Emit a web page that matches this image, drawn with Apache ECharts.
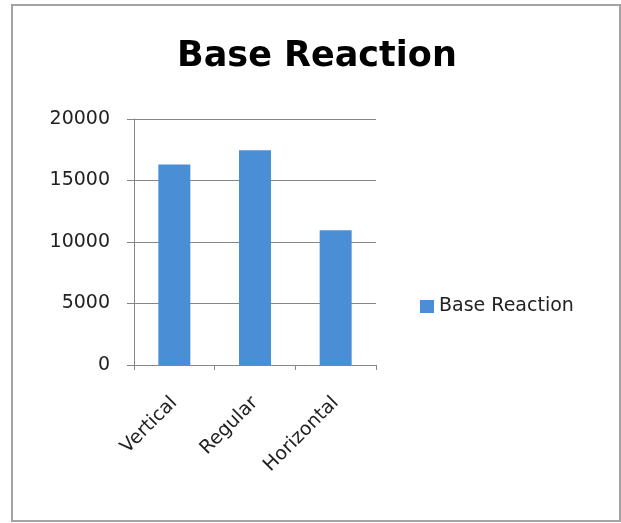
<!DOCTYPE html>
<html>
<head>
<meta charset="utf-8">
<script src="https://cdn.jsdelivr.net/npm/echarts@6/dist/echarts.min.js"></script>
<style>
  html, body { margin: 0; padding: 0; background: #fff; }
  #chart { width: 621px; height: 523px; }
</style>
</head>
<body>
<div id="chart"></div>
<script>
// Base reaction per configuration
const categories = ['Vertical', 'Regular', 'Horizontal'];
const baseReaction = [16300, 17450, 10950];
const seriesName = 'Base Reaction';
const yTicks = { min: 0, max: 20000, step: 5000 };

const chart = echarts.init(document.getElementById('chart'), null, { renderer: 'canvas' });

const axisGray = '#868686';
const textFont = 'DejaVu Sans';

chart.setOption({
  animation: false,
  backgroundColor: '#ffffff',
  title: {
    text: 'Base Reaction',
    left: 177,
    top: 39,
    padding: 0,
    textStyle: { fontFamily: textFont, fontWeight: 'bold', fontSize: 35, color: '#000' }
  },
  legend: {
    data: [seriesName],
    left: 415,
    top: 292,
    itemWidth: 14,
    itemHeight: 13,
    itemGap: 8,
    icon: 'rect',
    textStyle: { fontFamily: textFont, fontSize: 19, color: '#222' }
  },
  grid: { left: 134, right: 245, top: 119, bottom: 158, containLabel: false },
  xAxis: {
    type: 'category',
    data: categories,
    boundaryGap: true,
    axisLine: { lineStyle: { color: axisGray, width: 1 } },
    axisTick: { show: true, alignWithLabel: false, length: 5, lineStyle: { color: axisGray } },
    axisLabel: {
      rotate: 45,
      margin: 35,
      interval: 0,
      fontFamily: textFont,
      fontSize: 19,
      color: '#222'
    }
  },
  yAxis: {
    type: 'value',
    min: yTicks.min,
    max: yTicks.max,
    interval: yTicks.step,
    axisLine: { show: true, lineStyle: { color: axisGray, width: 1 } },
    axisTick: { show: true, length: 7, lineStyle: { color: axisGray } },
    splitLine: { show: true, lineStyle: { color: axisGray, width: 1 } },
    axisLabel: {
      margin: 24,
      formatter: v => String(v),
      fontFamily: textFont,
      fontSize: 19,
      color: '#222'
    }
  },
  series: [{
    name: seriesName,
    type: 'bar',
    data: baseReaction,
    barWidth: 32,
    itemStyle: { color: '#4a8fd6' }
  }],
  graphic: [{
    type: 'rect',
    shape: { x: 12, y: 5, width: 608, height: 516 },
    style: { fill: 'none', stroke: '#a3a3a3', lineWidth: 2 },
    silent: true
  }]
});
</script>
</body>
</html>
